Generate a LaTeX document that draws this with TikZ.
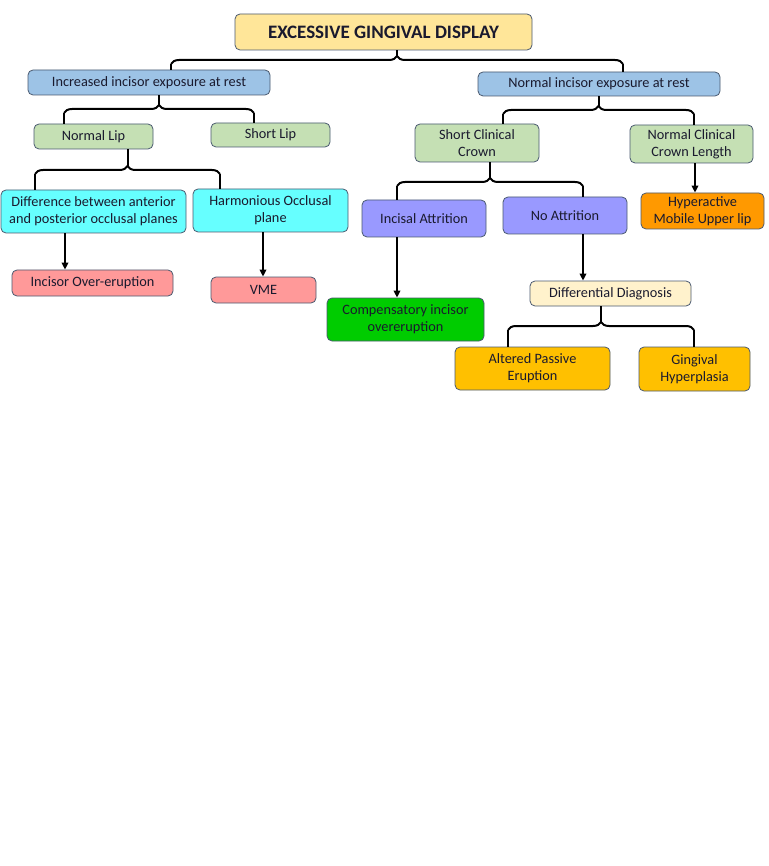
\documentclass[tikz,border=0pt]{standalone}
\usepackage{fontspec}
\setmainfont{Carlito}
\usetikzlibrary{arrows.meta,decorations.pathreplacing}
\definecolor{bordc}{HTML}{4A5A70}
\definecolor{textc}{HTML}{1A1A2E}
\definecolor{titlec}{HTML}{FFE699}
\definecolor{bluec}{HTML}{9DC3E6}
\definecolor{greenc}{HTML}{C5E0B4}
\definecolor{cyanc}{HTML}{66FFFF}
\definecolor{pinkc}{HTML}{FF9999}
\definecolor{violetc}{HTML}{9999FF}
\definecolor{orangec}{HTML}{FF9900}
\definecolor{brightg}{HTML}{00CC00}
\definecolor{creamc}{HTML}{FFF2CC}
\definecolor{goldc}{HTML}{FFC000}
\newcommand\bracelink[6]{%
  \coordinate (bl) at (#4,#6+4);
  \coordinate (br) at (#5,#6+4);
  \coordinate (bt) at ({(#4+#5)/2},#6-4);
  \draw[conn] (#2.north -| bl) -- (bl);
  \draw[conn] (#3.north -| br) -- (br);
  \draw[conn,decorate,decoration={brace,amplitude=8pt}] (bl) -- (br);
  \draw[conn] (#1.south -| bt) -- (bt);
}
\newcommand\arrowlink[3]{%
  \coordinate (ax) at (#3,0);
  \draw[arr] (#1.south -| ax) -- (#2.north -| ax);
}
\begin{document}
\begin{tikzpicture}[x=1pt,y=-1pt,
  box/.style={draw=bordc, line width=0.8pt, rounded corners=5pt, text=textc,
    align=center, inner sep=0pt, font=\fontsize{14.3}{17}\selectfont},
  conn/.style={line width=2pt, draw=black},
  arr/.style={conn, -{Triangle[length=7pt,width=6.5pt]}}]
\useasboundingbox (0,0) rectangle (768,866);
\fill[white] (0,0) rectangle (768,866);

\node[box, fill=titlec, minimum width=297pt, minimum height=36pt,
  font=\fontsize{19}{21}\selectfont\bfseries] (title) at (383.5,32) {EXCESSIVE GINGIVAL DISPLAY};

\node[box, fill=bluec, minimum width=242pt, minimum height=25pt] (inc) at (149,82.5) {Increased incisor exposure at rest};
\node[box, fill=bluec, minimum width=242pt, minimum height=24pt] (nor) at (599,84) {Normal incisor exposure at rest};

\node[box, fill=greenc, minimum width=119pt, minimum height=25pt] (nlip) at (93.5,136.5) {Normal Lip};
\node[box, fill=greenc, minimum width=119pt, minimum height=24pt] (slip) at (270.5,135) {Short Lip};
\node[box, fill=greenc, minimum width=124pt, minimum height=38pt] (scc) at (477,143) {Short Clinical\\Crown};
\node[box, fill=greenc, minimum width=123pt, minimum height=38pt] (ncc) at (691.5,144) {Normal Clinical\\Crown Length};

\node[box, fill=cyanc, minimum width=185pt, minimum height=43pt] (diff) at (93.5,211.5) {Difference between anterior\\and posterior occlusal planes};
\node[box, fill=cyanc, minimum width=155pt, minimum height=43pt] (harm) at (270.5,210.5) {Harmonious Occlusal\\plane};

\node[box, fill=pinkc, minimum width=161pt, minimum height=26pt] (iover) at (92.5,283) {Incisor Over-eruption};
\node[box, fill=pinkc, minimum width=105pt, minimum height=26pt] (vme) at (263.5,290) {VME};

\node[box, fill=violetc, minimum width=124pt, minimum height=37pt] (inca) at (424,218.5) {Incisal Attrition};
\node[box, fill=violetc, minimum width=124pt, minimum height=37pt] (noat) at (565,215.5) {No Attrition};
\node[box, fill=orangec, minimum width=123pt, minimum height=36pt] (hyp) at (702.5,211) {Hyperactive\\Mobile Upper lip};

\node[box, fill=brightg, minimum width=157pt, minimum height=43pt] (comp) at (405.5,319.5) {Compensatory incisor\\overeruption};
\node[box, fill=creamc, minimum width=161pt, minimum height=25pt] (ddx) at (610.5,293.5) {Differential Diagnosis};
\node[box, fill=goldc, minimum width=155pt, minimum height=43pt] (ape) at (532.5,368.5) {Altered Passive\\Eruption};
\node[box, fill=goldc, minimum width=111pt, minimum height=44pt] (ghy) at (694.5,369) {Gingival\\Hyperplasia};

\bracelink{title}{inc}{nor}{171}{623}{60}
\bracelink{inc}{nlip}{slip}{64}{254}{109}
\bracelink{nlip}{diff}{harm}{35}{220}{170}
\bracelink{nor}{scc}{ncc}{503}{694}{110}
\bracelink{scc}{inca}{noat}{397}{583}{182}
\bracelink{ddx}{ape}{ghy}{508}{694}{326}

\arrowlink{diff}{iover}{65}
\arrowlink{harm}{vme}{263}
\arrowlink{inca}{comp}{397}
\arrowlink{noat}{ddx}{583}
\arrowlink{ncc}{hyp}{695}
\end{tikzpicture}
\end{document}
